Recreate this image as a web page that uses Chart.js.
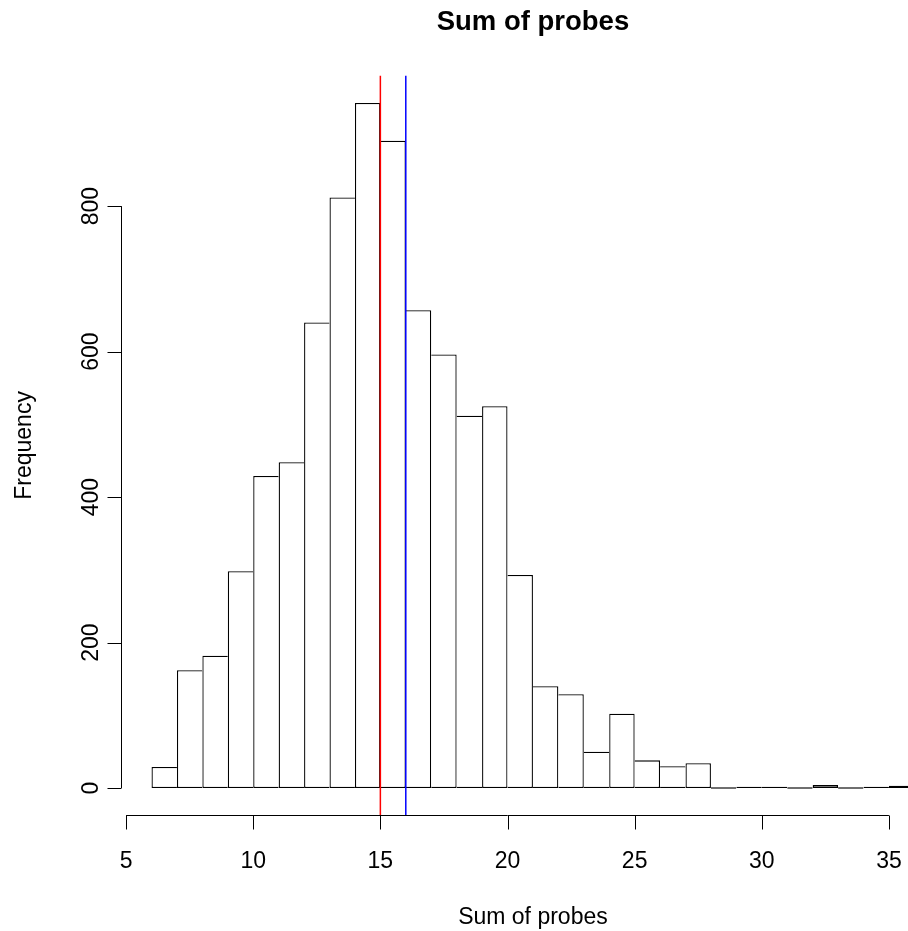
<!DOCTYPE html>
<html>
<head>
<meta charset="utf-8">
<script src="https://cdn.jsdelivr.net/npm/chart.js@4.4.1/dist/chart.umd.min.js"></script>
<style>
  html, body { margin: 0; padding: 0; background: #ffffff; }
  #wrap { width: 908px; height: 931px; position: relative; }
</style>
</head>
<body>
<div id="wrap"><canvas id="c" width="908" height="931"></canvas></div>
<script>
// ---- data ----
const chartTitle = "Sum of probes";
const xAxisTitle = "Sum of probes";
const yAxisTitle = "Frequency";
const binStarts = [6,7,8,9,10,11,12,13,14,15,16,17,18,19,20,21,22,23,24,25,26,27,28,29,30,31,32,33,34,35];
const binWidth = 1;
const counts    = [29,162,182,298,429,448,640,812,942,890,657,596,512,525,293,140,129,50,102,38,30,34,0,1,1,0,4,0,1,3];
const xTicks = [5,10,15,20,25,30,35];
const yTicks = [0,200,400,600,800];
const refLines = [15, 16];
const refColors = ["#ff0000", "#0000ff"];

// R-style axis ranges (4% extension)
const xLo = Math.min(...binStarts), xHi = Math.max(...binStarts) + binWidth;
const xMin = xLo - 0.04 * (xHi - xLo);
const yMaxData = Math.max(...counts);
const yMin = -0.04 * yMaxData, yMax = yMaxData * 1.04;

const barData = binStarts.map((s, i) => ({ x: s + binWidth / 2, y: counts[i] }));

const n = counts.length;
const BW = 1.3;
function edgeWidths(ctx) {
  const i = ctx.dataIndex;
  const h = counts[i];
  return {
    top: BW, bottom: BW,
    left: (i === 0 || counts[i - 1] < h) ? BW : 0,
    right: (i === n - 1 || counts[i + 1] <= h) ? BW : 0
  };
}

const FONT = "'Liberation Sans', Arial, Helvetica, sans-serif";

const rAxes = {
  id: 'rAxes',
  afterDraw(chart) {
    const ctx = chart.ctx;
    const xs = chart.scales.x, ys = chart.scales.y;
    const area = chart.chartArea;
    ctx.save();
    ctx.strokeStyle = '#000';
    ctx.fillStyle = '#000';
    ctx.lineWidth = 1;
    const tick = 14;

    // x axis
    const yAx = Math.round(area.bottom) + 0.5;
    ctx.beginPath();
    ctx.moveTo(xs.getPixelForValue(xTicks[0]), yAx);
    ctx.lineTo(xs.getPixelForValue(xTicks[xTicks.length - 1]), yAx);
    xTicks.forEach(v => {
      const p = Math.round(xs.getPixelForValue(v)) + 0.5;
      ctx.moveTo(p, yAx);
      ctx.lineTo(p, yAx + tick);
    });
    ctx.stroke();
    ctx.font = "23px " + FONT;
    ctx.textAlign = 'center';
    ctx.textBaseline = 'alphabetic';
    xTicks.forEach(v => {
      ctx.fillText(String(v), xs.getPixelForValue(v), 868);
    });

    // y axis
    const xAx = Math.round(area.left) + 0.5;
    ctx.beginPath();
    ctx.moveTo(xAx, ys.getPixelForValue(yTicks[0]));
    ctx.lineTo(xAx, ys.getPixelForValue(yTicks[yTicks.length - 1]));
    yTicks.forEach(v => {
      const p = Math.round(ys.getPixelForValue(v)) + 0.5;
      ctx.moveTo(xAx, p);
      ctx.lineTo(xAx - tick, p);
    });
    ctx.stroke();
    yTicks.forEach(v => {
      ctx.save();
      ctx.translate(98, ys.getPixelForValue(v));
      ctx.rotate(-Math.PI / 2);
      ctx.fillText(String(v), 0, 0);
      ctx.restore();
    });

    // axis titles
    const cx = (xs.getPixelForValue(xMin) + xs.getPixelForValue(xHi + 0.04 * (xHi - xLo))) / 2;
    ctx.fillText(xAxisTitle, cx, 924);
    ctx.save();
    ctx.translate(31, (area.top + area.bottom) / 2);
    ctx.rotate(-Math.PI / 2);
    ctx.fillText(yAxisTitle, 0, 0);
    ctx.restore();

    // main title
    ctx.font = "bold 27.5px " + FONT;
    ctx.fillText(chartTitle, cx, 29.5);
    ctx.restore();
  }
};

new Chart(document.getElementById('c'), {
  type: 'bar',
  data: {
    datasets: [
      {
        type: 'bar',
        data: barData,
        backgroundColor: '#ffffff',
        borderColor: '#000000',
        borderWidth: edgeWidths,
        borderSkipped: false,
        barPercentage: 1,
        categoryPercentage: 1,
        minBarLength: 1.3,
        inflateAmount: 0,
        order: 2
      },
      ...refLines.map((v, i) => ({
        type: 'line',
        data: [{ x: v, y: yMin }, { x: v, y: yMax }],
        borderColor: refColors[i],
        borderWidth: 1.5,
        pointRadius: 0,
        fill: false,
        order: 1
      }))
    ]
  },
  options: {
    responsive: false,
    animation: false,
    events: [],
    layout: { padding: { left: 121, right: 0, top: 75.5, bottom: 931 - 815.4 } },
    plugins: { legend: { display: false }, tooltip: { enabled: false }, title: { display: false } },
    scales: {
      x: { type: 'linear', min: xMin, max: 35.75, display: false, offset: false },
      y: { type: 'linear', min: yMin, max: yMax, display: false }
    }
  },
  plugins: [rAxes]
});
</script>
</body>
</html>
